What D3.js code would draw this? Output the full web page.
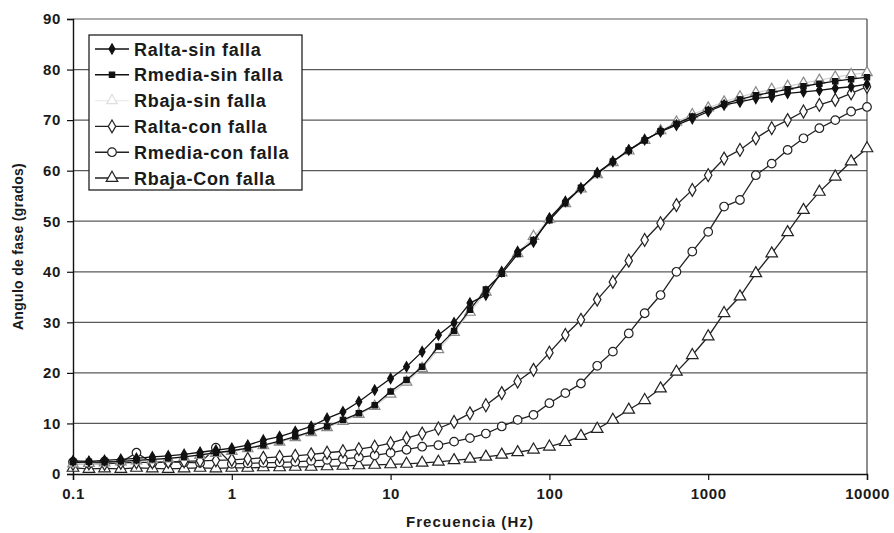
<!DOCTYPE html>
<html><head><meta charset="utf-8">
<script src="https://cdn.jsdelivr.net/npm/d3@7"></script>
<style>
html,body{margin:0;padding:0;background:#fff;}
svg{display:block;font-family:Arial,"Liberation Sans",sans-serif;}
</style></head>
<body><svg id="c" width="894" height="533"></svg>
<script>
const freq = [0.1,0.126,0.158,0.2,0.251,0.316,0.398,0.501,0.631,0.794,
  1,1.26,1.58,2,2.51,3.16,3.98,5.01,6.31,7.94,
  10,12.6,15.8,20,25.1,31.6,39.8,50.1,63.1,79.4,
  100,126,158,200,251,316,398,501,631,794,
  1000,1259,1585,1995,2512,3162,3981,5012,6310,7943,10000];

const raltaSin = [2.6,2.5,2.7,2.9,3.1,3.4,3.6,3.9,4.3,4.7,
  5.1,5.7,6.7,7.4,8.4,9.4,11.0,12.3,14.3,16.6,
  18.9,21.2,24.2,27.5,29.9,33.8,35.4,40.0,44.0,45.9,
  50.6,53.9,56.5,59.6,61.8,64.1,66.1,67.7,69.0,70.3,
  71.7,73.0,73.6,74.3,74.6,75.3,75.6,75.9,76.3,76.6,77.1];
const rmediaSin = [2.3,2.4,2.3,2.5,2.7,2.9,3.1,3.4,3.8,4.2,
  4.6,5.1,5.7,6.5,7.4,8.4,9.4,10.7,12.0,13.6,
  16.3,18.6,21.2,25.2,28.3,32.5,36.5,39.6,43.5,46.3,
  50.2,53.6,56.6,59.4,61.8,64.0,66.0,67.8,69.3,70.7,
  72.0,73.2,74.1,74.9,75.5,76.1,76.7,77.2,77.7,78.1,78.5];
const rbajaSin = [2.0,2.1,2.2,2.4,2.6,2.8,3.0,3.3,3.7,4.1,
  4.5,5.0,5.6,6.3,7.2,8.2,9.2,10.4,11.8,13.4,
  15.8,18.2,20.9,24.6,28.0,32.0,36.0,39.8,43.6,47.0,
  50.4,53.5,56.4,59.2,61.6,63.9,66.0,67.9,69.6,71.1,
  72.4,73.6,74.6,75.4,76.1,76.7,77.3,77.9,78.5,79.0,79.4];
const raltaCon = [2.0,2.1,2.0,2.2,2.3,2.3,2.4,2.5,2.6,2.7,
  2.8,3.0,3.2,3.4,3.6,3.9,4.2,4.5,4.9,5.4,
  6.1,7.1,8.0,9.0,10.3,12.0,13.6,16.0,18.3,20.6,
  24.0,27.5,30.5,34.5,38.0,42.2,46.3,49.6,53.2,56.2,
  59.1,62.4,64.1,66.4,68.4,70.0,71.7,73.0,74.0,75.3,76.6];
const rmediaCon = [2.4,2.0,2.5,2.3,4.2,2.2,2.4,2.3,2.2,5.2,
  2.0,2.1,2.2,2.3,2.4,2.6,2.8,3.0,3.3,3.7,
  4.2,4.8,5.4,5.7,6.4,7.1,8.0,9.4,10.7,11.7,
  14.0,16.0,17.9,21.4,24.2,27.8,31.8,35.4,40.0,44.0,
  47.9,52.9,54.2,59.1,61.4,64.1,66.4,68.4,70.0,71.7,72.6];
const rbajaCon = [1.2,1.0,1.1,1.0,1.2,1.1,1.0,1.1,1.2,1.1,
  1.2,1.2,1.3,1.3,1.4,1.4,1.5,1.6,1.7,1.8,
  1.9,2.0,2.2,2.4,2.7,3.0,3.4,3.8,4.3,4.8,
  5.4,6.3,7.5,8.9,10.7,12.7,14.6,16.9,20.2,23.5,
  27.2,31.8,35.1,39.7,43.6,47.8,52.2,55.8,58.8,61.8,64.4];

const seriesNames = ["Ralta-sin falla","Rmedia-sin falla","Rbaja-sin falla","Ralta-con falla","Rmedia-con falla","Rbaja-Con falla"];
const seriesValues = [raltaSin, rmediaSin, rbajaSin, raltaCon, rmediaCon, rbajaCon];
const xTicks = [0.1,1,10,100,1000,10000];
const xTickLabels = ["0.1","1","10","100","1000","10000"];
const yTicks = [0,10,20,30,40,50,60,70,80,90];
const xTitle = "Frecuencia (Hz)";
const yTitle = "Angulo de fase (grados)";

const styles = [
  {sym:d3.symbolDiamond, size:30, fill:"#111", stroke:"#111", line:"#111"},
  {sym:d3.symbolSquare, size:28, fill:"#111", stroke:"#111", line:"#111"},
  {sym:d3.symbolTriangle, size:48, fill:"#fff", stroke:"#8a8a8a", line:"#d4d4d4"},
  {sym:d3.symbolDiamond, size:48, fill:"#fff", stroke:"#222", line:"#222"},
  {sym:d3.symbolCircle, size:58, fill:"#fff", stroke:"#222", line:"#222"},
  {sym:d3.symbolTriangle, size:58, fill:"#fff", stroke:"#222", line:"#222"}
];

const svg = d3.select("#c");
const L=73, R=867, T=19, B=474;
const x = d3.scaleLog().domain([0.1,10000]).range([L,R]);
const y = d3.scaleLinear().domain([0,90]).range([B,T]);

svg.append("g").selectAll("line").data(yTicks.filter(d=>d>0)).join("line")
  .attr("x1",L).attr("x2",R).attr("y1",d=>y(d)).attr("y2",d=>y(d))
  .attr("stroke","#5a5a5a").attr("stroke-width",1.2);
svg.append("line").attr("x1",R).attr("x2",R).attr("y1",T).attr("y2",B)
  .attr("stroke","#444").attr("stroke-width",1.2);

const yAxis = d3.axisLeft(y).tickValues(yTicks).tickSize(6).tickPadding(6).tickFormat(d3.format("d"));
const gy = svg.append("g").attr("transform",`translate(${L},0)`).call(yAxis);
const xAxis = d3.axisBottom(x).tickValues(xTicks).tickSize(6).tickPadding(8).tickFormat((d,i)=>xTickLabels[i]);
const gx = svg.append("g").attr("transform",`translate(0,${B})`).call(xAxis);
[gx,gy].forEach(g=>{
  g.select(".domain").attr("stroke","#111").attr("stroke-width",1.4);
  g.selectAll(".tick line").attr("stroke","#111").attr("stroke-width",1.2);
  g.selectAll(".tick text").attr("fill","#1a1a1a").style("font-size","15px").style("font-weight","bold")
   .style("font-family","Arial, 'Liberation Sans', sans-serif").style("letter-spacing","0.6px");
});

svg.append("text").attr("x",(L+R)/2).attr("y",527).attr("text-anchor","middle")
  .style("font-size","15px").style("font-weight","bold").style("letter-spacing","1.1px")
  .attr("fill","#1a1a1a").text(xTitle);
svg.append("text").attr("transform",`translate(23,${(T+B)/2}) rotate(-90)`).attr("text-anchor","middle")
  .style("font-size","14px").style("font-weight","bold").style("letter-spacing","0.3px")
  .attr("fill","#1a1a1a").text(yTitle);

const line = d3.line().x((d,i)=>x(freq[i])).y(d=>y(d));
[5,4,3,2,1,0].forEach(k=>{
  const st = styles[k];
  const g = svg.append("g");
  g.append("path").datum(seriesValues[k]).attr("d",line)
    .attr("fill","none").attr("stroke",st.line).attr("stroke-width",1.3);
  g.selectAll("path.m").data(seriesValues[k]).join("path").attr("class","m")
    .attr("transform",(d,i)=>`translate(${x(freq[i])},${y(d)})`)
    .attr("d",d3.symbol().type(st.sym).size(st.size))
    .attr("fill",st.fill).attr("stroke",st.stroke).attr("stroke-width",1.2);
});

const lg = svg.append("g");
lg.append("rect").attr("x",89).attr("y",35).attr("width",213).attr("height",155)
  .attr("fill","#fff").attr("stroke","#222").attr("stroke-width",1.3);
seriesNames.forEach((name,k)=>{
  const st = styles[k];
  const cy = 49 + k*25.8;
  lg.append("line").attr("x1",95).attr("x2",129).attr("y1",cy).attr("y2",cy)
    .attr("stroke",k===2?"#ececec":st.line).attr("stroke-width",1.4);
  lg.append("path").attr("transform",`translate(112,${cy})`)
    .attr("d",d3.symbol().type(st.sym).size(st.size))
    .attr("fill",st.fill).attr("stroke",k===2?"#dedede":st.stroke).attr("stroke-width",1.2);
  lg.append("text").attr("x",134).attr("y",cy+6.5)
    .style("font-size","18px").style("font-weight","bold").style("letter-spacing","0.7px")
    .attr("fill","#1a1a1a").text(name);
});
</script></body></html>
